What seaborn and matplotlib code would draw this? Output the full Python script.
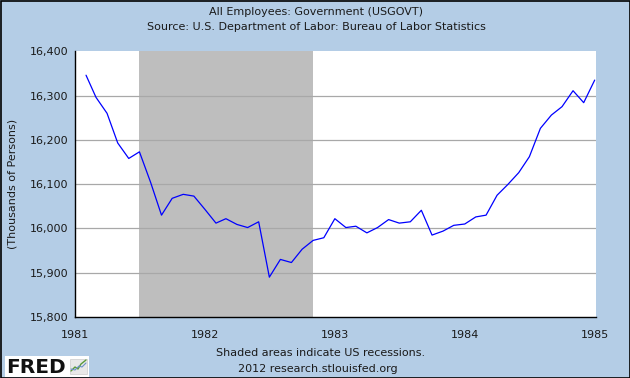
import numpy as np
import pandas as pd
import matplotlib
matplotlib.use("Agg")
import matplotlib.pyplot as plt
import seaborn as sns
from matplotlib.patches import Rectangle

# ---- data (thousands of persons), monthly Feb 1981 .. Jan 1985 ----
start_month = "1981-02-01"
values = [16346, 16296, 16260, 16193, 16158, 16173, 16105, 16030,
          16068, 16077, 16073, 16043, 16012, 16022, 16009, 16002,
          16015, 15890, 15930, 15923, 15953, 15973, 15979, 16022,
          16002, 16005, 15990, 16002, 16020, 16012, 16015, 16041,
          15985, 15994, 16007, 16010, 16026, 16030, 16075, 16099,
          16126, 16162, 16226, 16256, 16275, 16311, 16284, 16335]
recession_start = "1981-07-01"
recession_end = "1982-11-01"
y_ticks = [15800, 15900, 16000, 16100, 16200, 16300, 16400]
x_ticks = [1981, 1982, 1983, 1984, 1985]
title_lines = ["All Employees: Government (USGOVT)",
               "Source: U.S. Department of Labor: Bureau of Labor Statistics"]
y_label = "(Thousands of Persons)"
footer_lines = ["Shaded areas indicate US recessions.",
                "2012 research.stlouisfed.org"]


def dec_year(d):
    d = pd.Timestamp(d)
    n = 366 if d.is_leap_year else 365
    return d.year + (d.dayofyear - 1) / n


dates = pd.date_range(start_month, periods=len(values), freq="MS")
df = pd.DataFrame({"x": [dec_year(d) for d in dates], "value": values})

sns.set_style("white")
plt.rcParams["font.family"] = ["DejaVu Sans"]

BG = "#B4CDE6"
TXT = "#1A1A1A"
fig = plt.figure(figsize=(6.3, 3.78), dpi=100, facecolor=BG)
W, H = 630, 378
AX_W = 596 - 75
ax = fig.add_axes([75 / W, 1 - 317 / H, AX_W / W, (317 - 51.3) / H])
ax.set_facecolor("white")

ax.axvspan(dec_year(recession_start), dec_year(recession_end),
           color="#BEBEBE", lw=0, zorder=0.5)
for yt in y_ticks[1:-1]:
    ax.axhline(yt, color="#A8A8A8", lw=0.9, zorder=0.8)

sns.lineplot(data=df, x="x", y="value", ax=ax, color="#0000FF", lw=0.9,
             zorder=3)

ax.set_xlim(1981, 1985.01)
ax.set_ylim(15800, 16400)
ax.set_xticks(x_ticks)
ax.set_xticklabels([str(t) for t in x_ticks])
ax.set_yticks(y_ticks)
ax.set_yticklabels([f"{t:,}" for t in y_ticks])
ax.tick_params(axis="x", direction="in", length=4, width=0.8, color="black",
               labelsize=8, pad=9, labelcolor=TXT)
ax.tick_params(axis="y", direction="out", length=3, width=0.8, color="black",
               labelsize=8, pad=1.5, labelcolor=TXT)
ax.set_xlabel("")
ax.set_ylabel(y_label, fontsize=8, color=TXT)
ax.yaxis.set_label_coords(-(75 - 18) / AX_W, 0.5)
for s in ["top", "right"]:
    ax.spines[s].set_visible(False)
for s in ["left", "bottom"]:
    ax.spines[s].set_color("black")
    ax.spines[s].set_linewidth(1.0)

fig.text(316 / W, 1 - 12 / H, title_lines[0], ha="center", va="center",
         fontsize=8, color=TXT)
fig.text(316 / W, 1 - 27 / H, title_lines[1], ha="center", va="center",
         fontsize=8, color=TXT)
fig.text(321 / W, 1 - 353 / H, footer_lines[0], ha="center", va="center",
         fontsize=8, color=TXT)
fig.text(318 / W, 1 - 369 / H, footer_lines[1], ha="center", va="center",
         fontsize=8, color=TXT)

# FRED logo box
fig.patches.append(Rectangle((5 / W, 1 / H), 84 / W, 21 / H,
                             transform=fig.transFigure, facecolor="white",
                             edgecolor="none"))
fig.text(6 / W, 1 - 373 / H, "FRED", ha="left", va="baseline",
         fontsize=14.5, fontweight="bold", color="#111111")
fig.patches.append(Rectangle((70 / W, 4 / H), 17 / W, 15 / H,
                             transform=fig.transFigure, facecolor="#E8E8E8",
                             edgecolor="#CCCCCC", lw=0.5))
fig.lines.append(plt.Line2D([71 / W, 75 / W, 78 / W, 81 / W, 86 / W],
                            [7 / H, 11 / H, 9 / H, 14 / H, 18 / H],
                            transform=fig.transFigure, color="#5A9A3A",
                            lw=1))
fig.lines.append(plt.Line2D([71 / W, 75 / W, 79 / W, 82 / W, 86 / W],
                            [9 / H, 8 / H, 12 / H, 11 / H, 15 / H],
                            transform=fig.transFigure, color="#6A8FC8",
                            lw=0.8))

# outer black border
fig.patches.append(Rectangle((0.5 / W, 0.5 / H), 1 - 1 / W, 1 - 1 / H,
                             transform=fig.transFigure, facecolor="none",
                             edgecolor="black", lw=1.2))

fig.savefig("out.png", dpi=100, facecolor=BG)
